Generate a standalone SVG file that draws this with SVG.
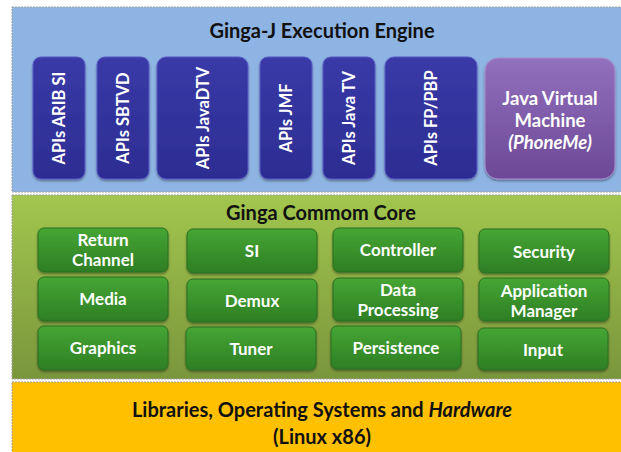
<svg xmlns="http://www.w3.org/2000/svg" width="621" height="452" viewBox="0 0 621 452">
<defs>
<linearGradient id="gPanel" x1="0" y1="0" x2="0" y2="1">
<stop offset="0" stop-color="#A2C64E"/>
<stop offset="1" stop-color="#7A963C"/>
</linearGradient>
<linearGradient id="bBox" x1="0" y1="0" x2="0" y2="1">
<stop offset="0" stop-color="#3A3AA8"/>
<stop offset="1" stop-color="#2C2C92"/>
</linearGradient>
<linearGradient id="pBox" x1="0" y1="0" x2="0" y2="1">
<stop offset="0" stop-color="#9270BE"/>
<stop offset="1" stop-color="#6C4896"/>
</linearGradient>
<linearGradient id="grBox" x1="0" y1="0" x2="0" y2="1">
<stop offset="0" stop-color="#46A634"/>
<stop offset="1" stop-color="#2E7E24"/>
</linearGradient>
<filter id="sh" x="-10%" y="-10%" width="130%" height="130%">
<feDropShadow dx="0" dy="1.5" stdDeviation="1.2" flood-color="#000" flood-opacity="0.4"/>
</filter>
</defs>
<style>
.panel{stroke:#A0A0A0;stroke-width:1;stroke-dasharray:2 1}
.api{fill:url(#bBox);stroke:#5A5AC8;stroke-width:1;filter:url(#sh)}
.core{fill:url(#grBox);stroke:#2A6E1E;stroke-width:1;filter:url(#sh)}
.t{font-family:Lato,"Open Sans","Liberation Sans",sans-serif;font-weight:bold;text-anchor:middle}
.w{fill:#FFFFFF;font-size:17px}
.v{fill:#FFFFFF;font-size:16.5px;dominant-baseline:central}
.h{fill:#111111;font-size:20px}
.j{fill:#FFFFFF;font-size:18.5px}
</style>
<g id="layer-ginga-j">
<rect class="panel" x="12" y="7" width="615" height="185" fill="#8EB4E3"/>
<text class="t h" x="322" y="38">Ginga-J Execution Engine</text>
</g>
<g id="api-arib"><rect class="api" x="33" y="57" width="52" height="122" rx="8"/><text class="t v" transform="translate(59,118) rotate(-90)">APIs ARIB SI</text></g>
<g id="api-sbtvd"><rect class="api" x="97" y="57" width="52" height="122" rx="8"/><text class="t v" transform="translate(123,118) rotate(-90)">APIs SBTVD</text></g>
<g id="api-javadtv"><rect class="api" x="157" y="57" width="91" height="122" rx="9"/><text class="t v" transform="translate(202.5,118) rotate(-90)">APIs JavaDTV</text></g>
<g id="api-jmf"><rect class="api" x="260" y="57" width="52" height="122" rx="8"/><text class="t v" transform="translate(286,118) rotate(-90)">APIs JMF</text></g>
<g id="api-javatv"><rect class="api" x="323" y="57" width="52" height="122" rx="8"/><text class="t v" transform="translate(349,118) rotate(-90)">APIs Java TV</text></g>
<g id="api-fppbp"><rect class="api" x="385" y="57" width="92" height="122" rx="9"/><text class="t v" transform="translate(431,118) rotate(-90)">APIs FP/PBP</text></g>
<g id="jvm"><rect x="485" y="58" width="130" height="121" rx="13" fill="url(#pBox)" stroke="#A88ED0" stroke-width="1" filter="url(#sh)"/>
<text class="t j" x="550" y="105">Java Virtual</text>
<text class="t j" x="550" y="127">Machine</text>
<text class="t j" x="550" y="149" font-style="italic">(PhoneMe)</text></g>
<g id="layer-core">
<rect class="panel" x="12" y="195" width="615" height="184" fill="url(#gPanel)"/>
<text class="t h" x="321" y="220">Ginga Commom Core</text>
</g>
<g id="return-channel"><rect class="core" x="38" y="228" width="130" height="44" rx="6"/><text class="t w" x="103" y="246">Return</text><text class="t w" x="103" y="266">Channel</text></g>
<g id="si"><rect class="core" x="187" y="229" width="130" height="44" rx="6"/><text class="t w" x="252" y="257">SI</text></g>
<g id="controller"><rect class="core" x="333" y="228" width="130" height="44" rx="6"/><text class="t w" x="398" y="256">Controller</text></g>
<g id="security"><rect class="core" x="479" y="229" width="130" height="44" rx="6"/><text class="t w" x="544" y="258">Security</text></g>
<g id="media"><rect class="core" x="38" y="277" width="130" height="44" rx="6"/><text class="t w" x="103" y="305">Media</text></g>
<g id="demux"><rect class="core" x="187" y="279" width="130" height="43" rx="6"/><text class="t w" x="252" y="307">Demux</text></g>
<g id="data-processing"><rect class="core" x="333" y="278" width="130" height="43" rx="6"/><text class="t w" x="398" y="296">Data</text><text class="t w" x="398" y="316">Processing</text></g>
<g id="application-manager"><rect class="core" x="479" y="278" width="130" height="43" rx="6"/><text class="t w" x="544" y="297">Application</text><text class="t w" x="544" y="317">Manager</text></g>
<g id="graphics"><rect class="core" x="38" y="326" width="130" height="44" rx="6"/><text class="t w" x="103" y="354">Graphics</text></g>
<g id="tuner"><rect class="core" x="186" y="327" width="130" height="43" rx="6"/><text class="t w" x="251" y="355">Tuner</text></g>
<g id="persistence"><rect class="core" x="331" y="326" width="130" height="43" rx="6"/><text class="t w" x="396" y="354">Persistence</text></g>
<g id="input"><rect class="core" x="478" y="328" width="130" height="42" rx="6"/><text class="t w" x="543" y="356">Input</text></g>
<g id="layer-hardware">
<rect class="panel" x="12" y="382" width="615" height="75" fill="#FFC000"/>
<text class="t h" x="322" y="417" font-size="21">Libraries, Operating Systems and <tspan font-style="italic">Hardware</tspan></text>
<text class="t h" x="322" y="444" font-size="21">(Linux x86)</text>
</g>
<g id="connectors"/>
</svg>
